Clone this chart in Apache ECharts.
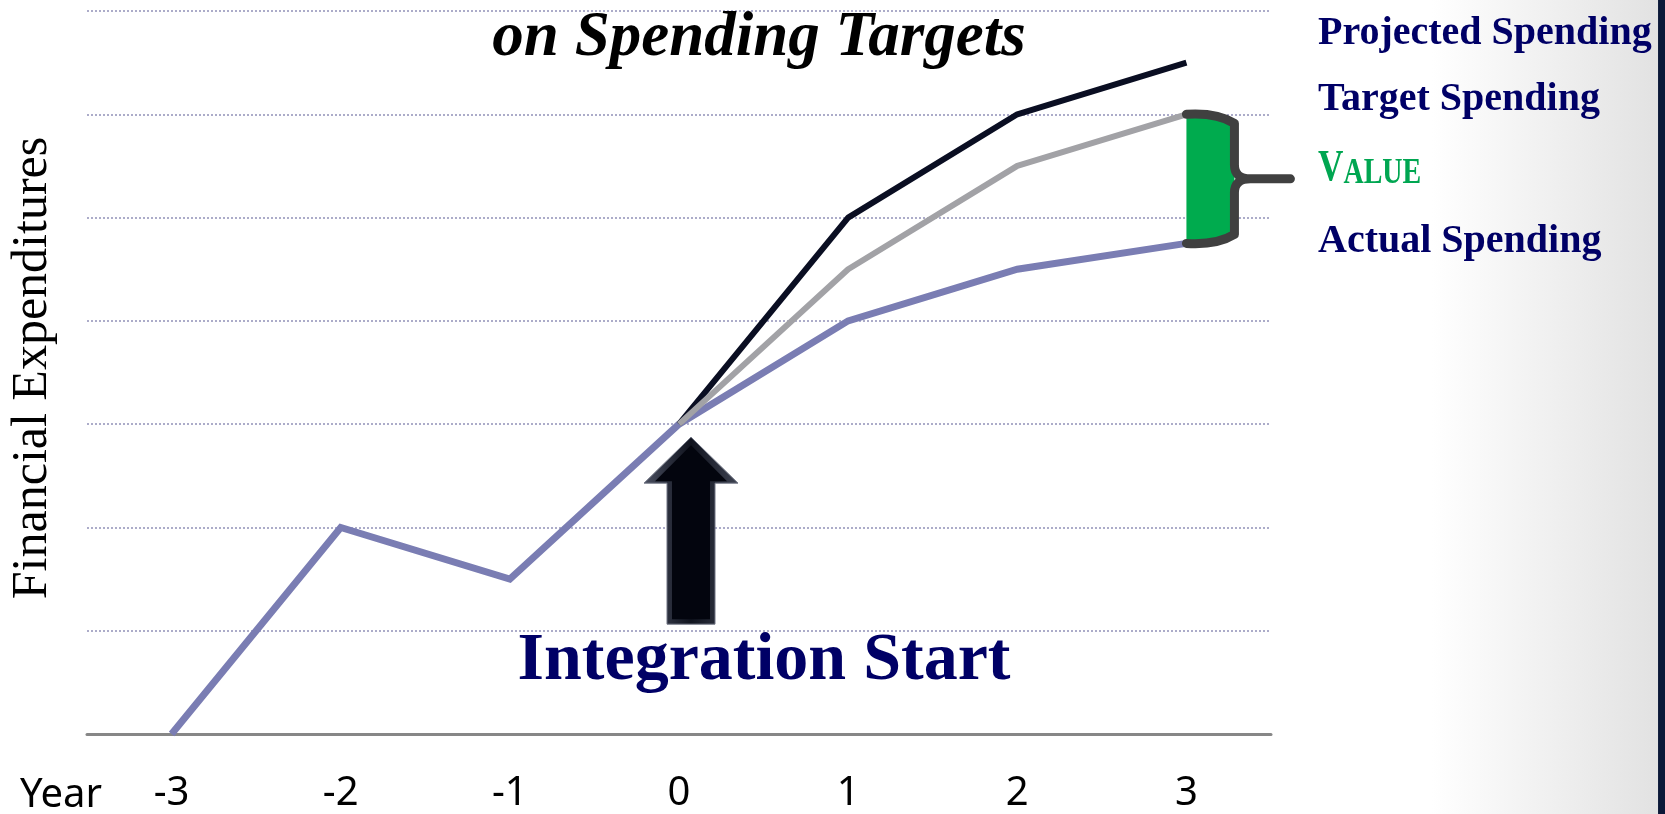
<!DOCTYPE html>
<html>
<head>
<meta charset="utf-8">
<title>Spending Targets</title>
<script src="https://cdn.jsdelivr.net/npm/echarts@6/dist/echarts.min.js"></script>
<style>
  html, body { margin: 0; padding: 0; }
  #chart { width: 1665px; height: 814px; }
</style>
</head>
<body>
<div id="chart"></div>
<script>
// Years relative to integration start
const years = ['-3', '-2', '-1', '0', '1', '2', '3'];
// Spending levels (arbitrary units, one grid step = 1)
const actualSpending    = [0, 2, 1.5, 3, 4, 4.5, 4.75];
const targetSpending    = [null, null, null, 3, 4.5, 5.5, 6];
const projectedSpending = [null, null, null, 3, 5, 6, 6.5];
// Side labels
const sideLabels = ['Projected Spending', 'Target Spending', 'VALUE', 'Actual Spending'];
const axisTitleY = 'Financial Expenditures';
const axisTitleX = 'Year';
const headline = 'on Spending Targets';
const startLabel = 'Integration Start';

const NAVY = '#000066';
const GREEN = '#00a651';
const SERIF = '"Liberation Serif", "DejaVu Serif", serif';
const SANS = '"Noto Sans", "Open Sans", sans-serif';

const chart = echarts.init(document.getElementById('chart'), null, { renderer: 'canvas' });

const lastIdx = years.length - 1;
const startIdx = years.indexOf('0');

// Value bracket between target and actual in the final year
function renderValueBracket(params, api) {
  const top = api.coord([api.value(0), api.value(1)]);
  const bot = api.coord([api.value(0), api.value(2)]);
  const x0 = top[0], yT = top[1], yB = bot[1];
  const ym = (yT + yB) / 2;
  const xv = x0 + 48;
  const brace =
    'M' + x0 + ',' + yT +
    ' Q' + (x0 + 30) + ',' + (yT - 2) + ' ' + xv + ',' + (yT + 9) +
    ' L' + xv + ',' + (ym - 14) +
    ' Q' + xv + ',' + ym + ' ' + (xv + 16) + ',' + ym +
    ' L' + (x0 + 104) + ',' + ym +
    ' M' + (xv + 16) + ',' + ym +
    ' Q' + xv + ',' + ym + ' ' + xv + ',' + (ym + 14) +
    ' L' + xv + ',' + (yB - 9) +
    ' Q' + (x0 + 30) + ',' + (yB + 2) + ' ' + x0 + ',' + yB;
  return {
    type: 'group',
    children: [
      {
        type: 'polygon',
        shape: { points: [[x0, yT + 2], [x0 + 30, yT], [xv, yT + 9], [xv, yB - 9], [x0 + 30, yB], [x0, yB - 2]] },
        style: { fill: '#00ab4e' },
        z2: 1
      },
      {
        type: 'path',
        shape: { pathData: brace },
        style: { fill: null, stroke: '#404040', lineWidth: 9, lineCap: 'round', lineJoin: 'round' },
        z2: 2
      }
    ]
  };
}

// Upward arrow marking the start of integration
function renderStartArrow(params, api) {
  const p = api.coord([api.value(0), api.value(1)]);
  const cx = p[0] + 12;
  const tip = p[1] + 13;
  const headBase = tip + 46;
  const bottom = tip + 187;
  const hw = 47, sw = 24;
  const outline = [
    [cx, tip], [cx + hw, headBase], [cx + sw, headBase], [cx + sw, bottom],
    [cx - sw, bottom], [cx - sw, headBase], [cx - hw, headBase]
  ];
  const b = 5; // bevel inset
  const inner = [
    [cx, tip + b * 1.6], [cx + hw - b * 2.2, headBase - b * 0.4], [cx + sw - b, headBase - b * 0.4],
    [cx + sw - b, bottom - b], [cx - sw + b, bottom - b], [cx - sw + b, headBase - b * 0.4],
    [cx - hw + b * 2.2, headBase - b * 0.4]
  ];
  return {
    type: 'group',
    children: [
      {
        type: 'polygon',
        shape: { points: outline },
        style: {
          fill: {
            type: 'linear', x: 0, y: 0, x2: 1, y2: 0,
            colorStops: [
              { offset: 0, color: '#4a4f60' },
              { offset: 0.5, color: '#10131e' },
              { offset: 1, color: '#3e4352' }
            ]
          },
          stroke: '#707584',
          lineWidth: 1,
          lineJoin: 'miter'
        }
      },
      {
        type: 'polygon',
        shape: { points: inner },
        style: { fill: '#03050e' }
      }
    ]
  };
}

const option = {
  animation: false,
  backgroundColor: {
    type: 'linear', x: 0, y: 0, x2: 1, y2: 0,
    colorStops: [
      { offset: 0, color: '#ffffff' },
      { offset: 0.86, color: '#ffffff' },
      { offset: 0.996, color: '#e2e2e2' },
      { offset: 0.9961, color: '#0b1838' },
      { offset: 1, color: '#0b1838' }
    ]
  },
  grid: { left: 87, right: 394, top: 11, bottom: 80, containLabel: false },
  xAxis: {
    type: 'category',
    data: years,
    boundaryGap: true,
    axisLine: { show: true, lineStyle: { color: '#878787', width: 3 } },
    axisTick: { show: false },
    axisLabel: { color: '#000000', fontFamily: SANS, fontSize: 40, margin: 40 },
    splitLine: { show: false }
  },
  yAxis: {
    type: 'value',
    min: 0, max: 7, interval: 1,
    axisLine: { show: false },
    axisTick: { show: false },
    axisLabel: { show: false },
    splitLine: { show: true, lineStyle: { color: '#9898bc', width: 1.6, type: [2, 2] } }
  },
  series: [
    {
      name: 'Actual Spending',
      type: 'line',
      data: actualSpending,
      symbol: 'none',
      lineStyle: { color: '#7a7db3', width: 7, join: 'miter' },
      z: 3
    },
    {
      name: 'Projected Spending',
      type: 'line',
      data: projectedSpending,
      symbol: 'none',
      lineStyle: { color: '#0a0e22', width: 6 },
      z: 4
    },
    {
      name: 'Target Spending',
      type: 'line',
      data: targetSpending,
      symbol: 'none',
      lineStyle: { color: '#a2a2a6', width: 6 },
      z: 5
    },
    {
      name: 'Value',
      type: 'custom',
      renderItem: renderValueBracket,
      data: [[lastIdx, targetSpending[lastIdx], actualSpending[lastIdx]]],
      encode: { x: 0, y: [1, 2] },
      silent: true,
      z: 6
    },
    {
      name: 'Start',
      type: 'custom',
      renderItem: renderStartArrow,
      data: [[startIdx, actualSpending[startIdx]]],
      encode: { x: 0, y: 1 },
      silent: true,
      z: 6
    }
  ],
  graphic: [
    {
      type: 'text', x: 759, y: 39,
      style: { text: headline, font: 'italic bold 63px ' + SERIF, fill: '#000000', align: 'center', verticalAlign: 'middle' },
      z: 10
    },
    {
      type: 'text', x: 764, y: 661,
      style: { text: startLabel, font: 'bold 68px ' + SERIF, fill: NAVY, align: 'center', verticalAlign: 'middle' },
      z: 10
    },
    {
      type: 'text', x: 33, y: 368, rotation: Math.PI / 2,
      style: { text: axisTitleY, font: '50px ' + SERIF, fill: '#000000', align: 'center', verticalAlign: 'middle' },
      z: 10
    },
    {
      type: 'text', x: 61, y: 796,
      style: { text: axisTitleX, font: '40px ' + SANS, fill: '#000000', align: 'center', verticalAlign: 'middle' },
      z: 10
    },
    {
      type: 'text', x: 1318, y: 34,
      style: { text: sideLabels[0], font: 'bold 40px ' + SERIF, fill: NAVY, align: 'left', verticalAlign: 'middle' },
      z: 10
    },
    {
      type: 'text', x: 1318, y: 100,
      style: { text: sideLabels[1], font: 'bold 40px ' + SERIF, fill: NAVY, align: 'left', verticalAlign: 'middle' },
      z: 10
    },
    {
      type: 'text', x: 1318, y: 191, scaleX: 0.8,
      style: {
        text: '{cap|' + sideLabels[2].charAt(0) + '}{sc|' + sideLabels[2].slice(1) + '}',
        align: 'left', verticalAlign: 'bottom',
        rich: {
          cap: { font: 'bold 44px ' + SERIF, fill: GREEN, verticalAlign: 'bottom', lineHeight: 44 },
          sc: { font: 'bold 35px ' + SERIF, fill: GREEN, verticalAlign: 'bottom', lineHeight: 44 }
        }
      },
      z: 10
    },
    {
      type: 'text', x: 1318, y: 242,
      style: { text: sideLabels[3], font: 'bold 40px ' + SERIF, fill: NAVY, align: 'left', verticalAlign: 'middle' },
      z: 10
    }
  ]
};

chart.setOption(option);
</script>
</body>
</html>
